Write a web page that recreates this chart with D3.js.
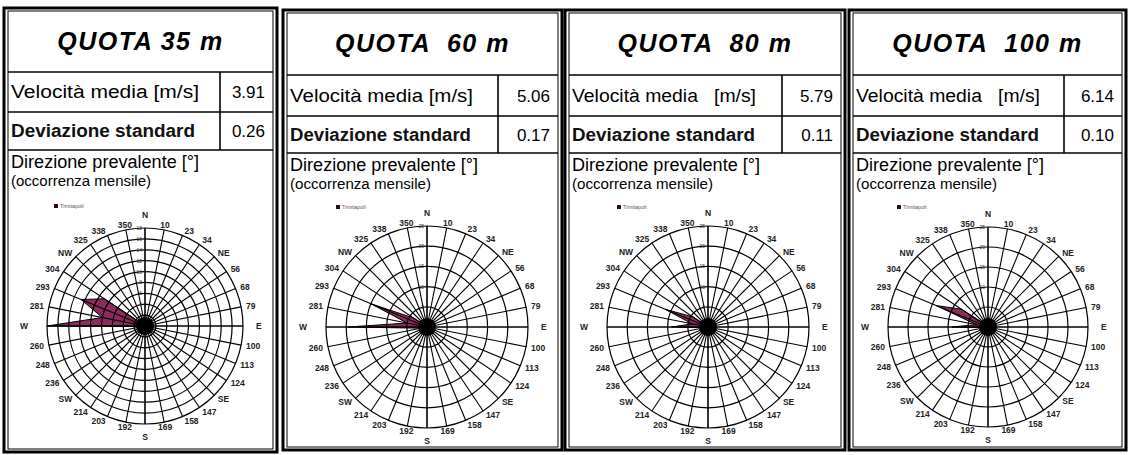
<!DOCTYPE html>
<html>
<head>
<meta charset="utf-8">
<script src="https://cdn.jsdelivr.net/npm/d3@7"></script>
<style>
  body { margin: 0; background: #fff; }
  svg { display: block; font-family: "Liberation Sans", Arial, sans-serif; }
</style>
</head>
<body>
<div id="chart-wrapper"></div>
<script>
// data
const heights = ["QUOTA 35 m", "QUOTA  60 m", "QUOTA  80 m", "QUOTA  100 m"];
const speedLabels = ["Velocità media [m/s]", "Velocità media [m/s]", "Velocità media   [m/s]", "Velocità media   [m/s]"];
const meanSpeed = ["3.91", "5.06", "5.79", "6.14"];
const stdDev = ["0.26", "0.17", "0.11", "0.10"];
const seriesName = "Trinitapoli";

const dirLabels = ["N","10","23","34","NE","56","68","79","E","100","113","124","SE","147","158","169",
                   "S","192","203","214","SW","236","248","260","W","281","293","304","NW","325","338","350"];

// monthly occurrences per direction (N clockwise, 32 sectors)
const occ35  = [0,0,0,0,0,0,0,0,0,0,0,0,0,0,0,0,0,0,0,0,0,0,1.5,0.5,18,8,12.7,9,0.3,0,0,0];
const occ60  = [0,0,0,0,0,0,0,0,0,0,0,0,0,0,0,0,0,0,0,0,0,0,0,1.5,19.5,5,15,4,0.5,0,0,0];
const occ80  = [0,0,0,0,0,0,0,0,0,0,0,0,0,0,0,0,0,0,0,0,0,0,0,1,9,4,11.5,4.5,0.5,0,0,0];
const occ100 = [0,0,0,0,0,0,0,0,0,0,0,0,0,0,0,0,0,0,0,0,0,0,2,1,9,3,14,8,1,0,0,0];

const ringTicks35 = [2,4,6,8,10,12,14,16,18];
const ringTicks = [5,10,15,20,25];

class WindPanel {
    constructor(svg, box){
        this.svg = svg;
        this.box = box;
    }

    draw(title, speedLabel, speed, dev, values, ticks){
        const b = this.box;
        const g = this.svg.append("g");

        // frame (double border)
        g.append("rect").attr("x", b.x0).attr("y", b.rows[0]).attr("width", b.x1 - b.x0).attr("height", b.bottom - b.rows[0])
            .attr("fill", "none").attr("stroke", "#000").attr("stroke-width", 3);
        g.append("rect").attr("x", b.x0 + 4).attr("y", b.rows[0] + 3).attr("width", b.x1 - b.x0 - 8).attr("height", b.bottom - b.rows[0] - 6)
            .attr("fill", "none").attr("stroke", "#000").attr("stroke-width", 1);

        // table lines
        [b.rows[1], b.rows[2], b.rows[3]].forEach(y => {
            g.append("line").attr("x1", b.x0 + 4).attr("x2", b.x1 - 4).attr("y1", y).attr("y2", y)
                .attr("stroke", "#000").attr("stroke-width", 1.6);
        });
        g.append("line").attr("x1", b.div).attr("x2", b.div).attr("y1", b.rows[1]).attr("y2", b.rows[3])
            .attr("stroke", "#000").attr("stroke-width", 1.6);

        const mid = (b.x0 + b.x1) / 2;
        g.append("text").attr("x", mid).attr("y", b.rows[0] + 42)
            .attr("text-anchor", "middle").attr("font-size", 25).attr("font-weight", "bold").attr("font-style", "italic")
            .attr("letter-spacing", 1.5)
            .style("white-space", "pre").text(title);

        const tl = b.textLen;
        g.append("text").attr("x", b.x0 + 7).attr("y", (b.rows[1] + b.rows[2]) / 2 + 6)
            .attr("font-size", 18).attr("textLength", tl[0]).attr("lengthAdjust", "spacingAndGlyphs")
            .style("white-space", "pre").text(speedLabel);
        g.append("text").attr("x", b.x1 - 12).attr("y", (b.rows[1] + b.rows[2]) / 2 + 6)
            .attr("text-anchor", "end").attr("font-size", 17).text(speed);
        g.append("text").attr("x", b.x0 + 7).attr("y", (b.rows[2] + b.rows[3]) / 2 + 6)
            .attr("font-size", 18).attr("font-weight", "bold").attr("fill", "#111")
            .attr("textLength", tl[1]).attr("lengthAdjust", "spacingAndGlyphs").text("Deviazione standard");
        g.append("text").attr("x", b.x1 - 12).attr("y", (b.rows[2] + b.rows[3]) / 2 + 6)
            .attr("text-anchor", "end").attr("font-size", 17).text(dev);
        g.append("text").attr("x", b.x0 + 7).attr("y", b.rows[3] + 18)
            .attr("font-size", 18).attr("textLength", tl[2]).attr("lengthAdjust", "spacingAndGlyphs")
            .text("Direzione prevalente [°]");
        g.append("text").attr("x", b.x0 + 7).attr("y", b.rows[3] + 36)
            .attr("font-size", 14).attr("textLength", tl[3]).attr("lengthAdjust", "spacingAndGlyphs")
            .text("(occorrenza mensile)");

        this.addRose(g, values, ticks);
    }

    addRose(g, values, ticks){
        const b = this.box;
        const R = b.R;
        const rose = g.append("g").attr("transform", `translate(${b.cx},${b.cy})`);

        const angle = d3.scaleLinear().domain([0, dirLabels.length]).range([0, 2 * Math.PI]);
        const radius = d3.scaleLinear().domain([0, d3.max(ticks)]).range([0, R]);

        // data polygon
        const area = d3.lineRadial()
            .angle((d, i) => angle(i))
            .radius(d => radius(d))
            .curve(d3.curveLinearClosed);
        rose.append("path").datum(values).attr("d", area)
            .attr("fill", "#8a2d5c").attr("stroke", "#000").attr("stroke-width", 1);

        // rings
        rose.selectAll("circle.ring").data(ticks).join("circle").classed("ring", true)
            .attr("r", d => radius(d)).attr("fill", "none").attr("stroke", "#000").attr("stroke-width", 1.2);

        // spokes
        rose.selectAll("line.spoke").data(dirLabels).join("line").classed("spoke", true)
            .attr("x1", 0).attr("y1", 0)
            .attr("x2", (d, i) => R * Math.sin(angle(i)))
            .attr("y2", (d, i) => -R * Math.cos(angle(i)))
            .attr("stroke", "#000").attr("stroke-width", (d, i) => i % 8 === 0 ? 1.6 : 1.1);

        rose.append("circle").attr("r", 9).attr("fill", "#000");

        // radial tick labels
        rose.selectAll("text.rt").data(ticks).join("text").classed("rt", true)
            .attr("x", -3).attr("y", d => -radius(d) + 2)
            .attr("text-anchor", "end").attr("font-size", 5).attr("fill", "#333")
            .text(d => d);

        // direction labels
        rose.selectAll("text.dir").data(dirLabels).join("text").classed("dir", true)
            .each(function(d, i){
                const a = angle(i);
                const s = Math.sin(a), c = Math.cos(a);
                const rr = (i % 16 === 0) ? R + 13 : R + 5;
                let anchor = "middle";
                if (s > 0.2) anchor = "start";
                else if (s < -0.2) anchor = "end";
                let extra = 0;
                if (i === 8) extra = 8;
                if (i === 24) extra = 14;
                d3.select(this)
                    .attr("x", (rr + extra) * s)
                    .attr("y", -rr * c + 3)
                    .attr("text-anchor", anchor);
            })
            .attr("font-size", 8.5).attr("font-weight", "bold").attr("fill", "#222")
            .text(d => d);

        // legend
        rose.append("rect").attr("x", -91).attr("y", -122).attr("width", 4).attr("height", 4).attr("fill", "#2a0a1a");
        rose.append("text").attr("x", -85).attr("y", -118).attr("font-size", 5.5).attr("fill", "#555").text(seriesName);
    }
}

const svg = d3.select("#chart-wrapper").append("svg").attr("width", 1129).attr("height", 455);

const boxes = [
    {x0: 4,   x1: 277,  div: 220,  rows: [8, 72, 112, 150],  bottom: 452, cx: 145, cy: 326, R: 98,  textLen: [188, 184, 188, 140]},
    {x0: 283, x1: 562,  div: 498,  rows: [10, 75, 116, 153], bottom: 450, cx: 427, cy: 327, R: 101, textLen: [183, 181, 188, 141]},
    {x0: 565, x1: 845,  div: 782,  rows: [10, 75, 116, 153], bottom: 450, cx: 708, cy: 327, R: 101, textLen: [184, 183, 188, 141]},
    {x0: 849, x1: 1126, div: 1064, rows: [10, 75, 116, 153], bottom: 450, cx: 988, cy: 327, R: 100, textLen: [184, 183, 188, 141]}
];
const allValues = [occ35, occ60, occ80, occ100];
const allTicks = [ringTicks35, ringTicks, ringTicks, ringTicks];

boxes.forEach((box, i) => {
    new WindPanel(svg, box).draw(heights[i], speedLabels[i], meanSpeed[i], stdDev[i], allValues[i], allTicks[i]);
});
</script>
</body>
</html>
